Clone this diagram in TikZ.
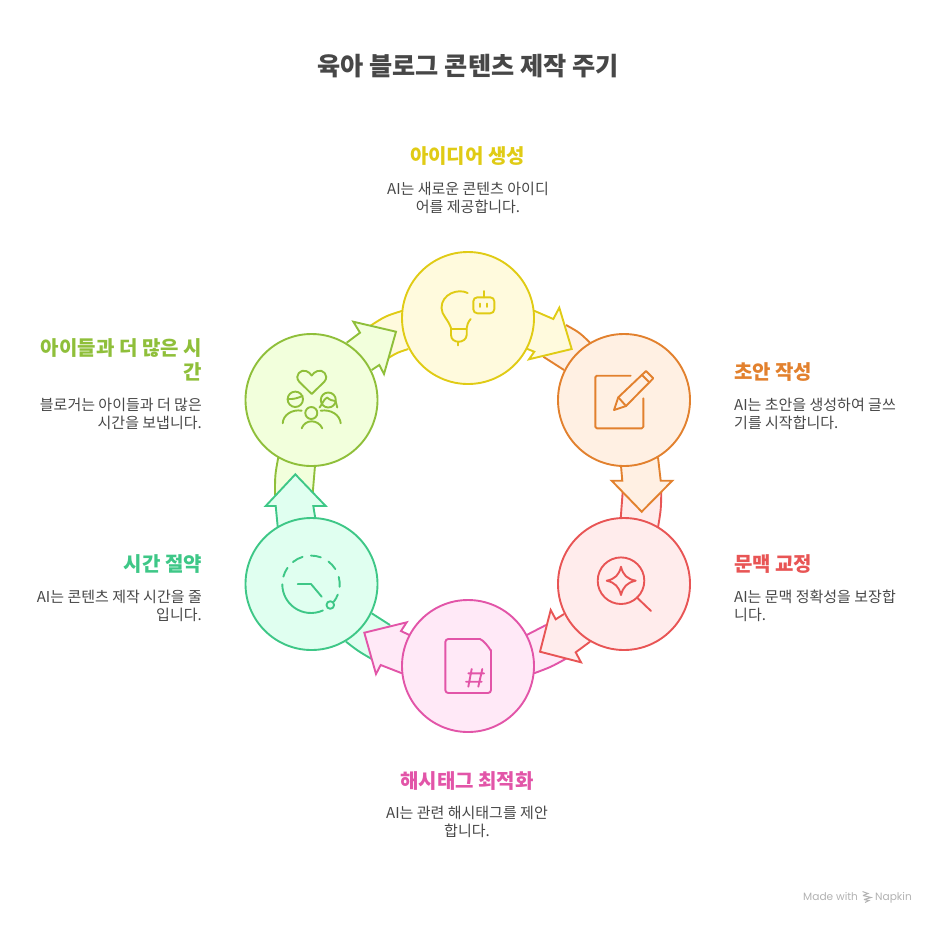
\documentclass[tikz,border=0pt]{standalone}
\usepackage{fontspec}
\setmainfont{Noto Sans CJK KR}
\newfontfamily\wmfont{Poppins}
\definecolor{ys}{HTML}{E0CB15}\definecolor{yf}{HTML}{FFFADD}
\definecolor{os}{HTML}{E2812E}\definecolor{of}{HTML}{FFF0E3}
\definecolor{rs}{HTML}{E85555}\definecolor{rf}{HTML}{FFECEC}
\definecolor{ps}{HTML}{E255A8}\definecolor{pf}{HTML}{FFE9F7}
\definecolor{ts}{HTML}{3EC787}\definecolor{tf}{HTML}{E0FFF0}
\definecolor{ls}{HTML}{8FBF3A}\definecolor{lf}{HTML}{F2FFDC}
\definecolor{ink}{HTML}{474747}
\tikzset{
 ring/.style n args={2}{circle,draw=#1,fill=#2,line width=1.9pt,minimum size=132pt,inner sep=0pt},
 arrowshape/.style n args={2}{draw=#1,fill=#2,line width=1.9pt,line join=miter,miter limit=10},
 ico/.style={line width=1.9pt,line cap=round,line join=round},
 headtext/.style={font=\fontsize{20}{25}\selectfont\bfseries,inner sep=0pt},
 bodytext/.style={font=\fontsize{15}{18}\selectfont,text=ink,inner sep=0pt},
 wmtext/.style={font=\wmfont\fontsize{10.6}{12}\selectfont,text=black!30,anchor=base west,inner sep=0pt},
}
\newcommand{\tailshape}[8]{% stroke fill a ctrl b c ctrl d
 \fill[#2] #3 .. controls #4 .. #5 -- #8 .. controls #7 .. #6 -- cycle;
 \draw[#1,line width=1.9pt] #3 .. controls #4 .. #5 #6 .. controls #7 .. #8;
}
\newcommand{\clockarc}[2]{%
 \draw[ico,ts] ({311+28.7*cos(#1)},{584.3-28.7*sin(#1)}) arc[start angle=#1,end angle=#2,radius=28.7pt];
}
\begin{document}
\begin{tikzpicture}[x=1pt,y=-1pt]
\useasboundingbox (0,0) rectangle (936,924);
% tails
\tailshape{ys}{yf}{(402.7,310.7)}{(385.5,316)}{(370,326)}{(408.3,349)}{(397.5,352.5)}{(388.3,358)}
\tailshape{os}{of}{(566,325)}{(579.5,332.5)}{(590,342.7)}{(543.3,356.7)}{(554,362.5)}{(564,370)}
\tailshape{rs}{rf}{(661.3,491)}{(661,509.5)}{(658,527.3)}{(622.7,491.7)}{(621.5,505)}{(620.7,518.3)}
\tailshape{ps}{pf}{(566.7,658.3)}{(551,667)}{(534,673.3)}{(546,625)}{(536,630.5)}{(526.7,635)}
\tailshape{ts}{tf}{(371.7,659)}{(358,651)}{(346,641.7)}{(390,625)}{(380.5,619.5)}{(371.7,613.3)}
\tailshape{ls}{lf}{(278.3,457.3)}{(275,475)}{(275,495)}{(315,465.7)}{(313.5,480)}{(312.7,493.3)}
% arrows
\draw[arrowshape={ys}{yf}] (534,310.7) -- (553.3,319) -- (559.3,307.7) -- (571.7,349) -- (529,359.3) -- (534.3,351.7) -- (525.7,348.3);
\draw[arrowshape={os}{of}] (621,466) -- (622.3,480.7) -- (611.7,480.7) -- (641.7,511.7) -- (672.3,480.7) -- (660.7,480.7) -- (658,457.3);
\draw[arrowshape={rs}{rf}] (564,614) -- (555.7,619.3) -- (550.7,610) -- (540,651.7) -- (581,662.3) -- (575.7,652.3) -- (590,641.7);
\draw[arrowshape={ps}{pf}] (409.3,635) -- (401,631) -- (406.7,622.3) -- (364.3,632.7) -- (376,674) -- (380.7,665) -- (402,673.3);
\draw[arrowshape={ts}{tf}] (277.7,526.7) -- (275.7,506) -- (265.7,506) -- (295.3,474.3) -- (325.7,506) -- (313.3,506) -- (315.3,518.3);
\draw[arrowshape={ls}{lf}] (346.7,342.7) -- (360,332.7) -- (353.3,321.7) -- (396,331.7) -- (384,374) -- (379.3,365) -- (371.7,370);
% circles
\node[ring={ys}{yf}] (idea) at (468,318) {};
\node[ring={os}{of}] (draft) at (624,400) {};
\node[ring={rs}{rf}] (context) at (624,584) {};
\node[ring={ps}{pf}] (hash) at (468,666) {};
\node[ring={ts}{tf}] (time) at (311.5,584) {};
\node[ring={ls}{lf}] (kids) at (311.5,400) {};
% bulb + robot
\draw[ico,ys] (467.7,293) .. controls (458,288) and (441.5,294) .. (441.5,308) .. controls (441.5,315) and (448,319) .. (451,328) -- (451,335) .. controls (451,344) and (466,344) .. (466.7,335) -- (466.7,328) .. controls (467,325) and (468,322) .. (470.7,319);
\draw[ico,ys] (451,329) -- (466.7,329) (458.3,342) -- (458.3,345.5);
\draw[ico,ys,rounded corners=4pt] (473.3,297.3) rectangle (494.3,313.3);
\draw[ico,ys] (483.7,291) -- (483.7,297.3) (479.7,303.5) -- (479.7,307) (487.3,303.5) -- (487.3,307);
% note + pencil
\draw[ico,os,rounded corners=1.5pt] (630.7,375.7) -- (595.3,375.7) -- (595.3,428.3) -- (643.3,428.3) -- (643.3,398.3);
\draw[ico,os] (614,410) -- (618.3,397.3) -- (646,371) -- (653.3,378.3) -- (626,406) -- cycle;
\draw[ico,os] (618.3,397.3) -- (626,406) (642,375) -- (649.3,382.3);
% magnifier
\draw[ico,rs] (621,580.7) circle[radius=23.3pt];
\draw[ico,rs] (636.7,597.3) -- (651,611);
\draw[ico,rs] (621,566.7) .. controls (623,575) and (627,579) .. (635.7,580.7) .. controls (627,582.5) and (623,587) .. (621,595) .. controls (619,587) and (615,582.5) .. (606.7,580.7) .. controls (615,579) and (619,575) .. (621,566.7) -- cycle;
% document
\draw[ico,ps,rounded corners=3pt] (480,639) -- (445.3,639) -- (445.3,693) -- (491,693) -- (491,650);
\draw[ico,ps] (480,639) .. controls (483,640) and (489,647) .. (491,651);
\draw[ico,ps] (471.7,669) -- (468.3,686.7) (482.3,669) -- (478.3,686.7) (468.3,673.3) -- (484,673.3) (466,681.7) -- (481.7,681.7);
% clock
\clockarc{164.5}{145}\clockarc{129}{107}\clockarc{90}{70}\clockarc{52.6}{32}\clockarc{15}{-5}\clockarc{-21}{-37}\clockarc{-65.5}{-180}
\draw[ico,ts] (330.3,605) circle[radius=3.8pt];
\draw[ico,ts] (297.7,584) -- (311,584) -- (321.7,596.7);
% people + heart
\draw[ico,ls] (311.7,394) -- (299,381.5) .. controls (294,375) and (301,369) .. (306,371) .. controls (308.5,372) and (310,373) .. (311.7,375.5) .. controls (313.5,373) and (315,372) .. (317.5,371) .. controls (322.5,369) and (329.5,375) .. (324.5,381.5) -- cycle;
\draw[ico,ls] (295.3,399.3) circle[radius=7.7pt];
\draw[ico,ls] (288,399) .. controls (293,399.5) and (298,398) .. (302.5,396);
\draw[ico,ls] (328.3,400) circle[radius=7.5pt];
\draw[ico,ls] (319.5,407.5) .. controls (322,405) and (323,400) .. (327,397.5) .. controls (330,400) and (333,401) .. (335.5,401) (335.5,401) -- (337.3,407.5);
\draw[ico,ls] (311.3,413) circle[radius=6pt];
\draw[ico,ls] (282.7,423.3) .. controls (283,415) and (292,409) .. (301.7,410.7);
\draw[ico,ls] (320.7,410.7) .. controls (331,409) and (340,415) .. (340.7,423.3);
\draw[ico,ls] (301.7,428.3) .. controls (305,419) and (318,419) .. (322.3,428.3);
% texts
\node[font=\fontsize{25.2}{30}\selectfont\bfseries,text=ink,inner sep=0pt] (title) at (468,66) {육아 블로그 콘텐츠 제작 주기};
\node[headtext,text=ys] (t1) at (467.5,156) {아이디어 생성};
\node[bodytext,align=center] (b1) at (468,198) {AI는 새로운 콘텐츠 아이디\\어를 제공합니다.};
\node[headtext,text=os,anchor=west] (t2) at (734,372) {초안 작성};
\node[bodytext,align=left,anchor=west] (b2) at (734,414) {AI는 초안을 생성하여 글쓰\\기를 시작합니다.};
\node[headtext,text=rs,anchor=west] (t3) at (734,564) {문맥 교정};
\node[bodytext,align=left,anchor=west] (b3) at (734,606) {AI는 문맥 정확성을 보장합\\니다.};
\node[headtext,text=ps] (t4) at (467,781) {해시태그 최적화};
\node[bodytext,align=center] (b4) at (467,822) {AI는 관련 해시태그를 제안\\합니다.};
\node[headtext,text=ts,anchor=east] (t5) at (202,564) {시간 절약};
\node[bodytext,align=right,anchor=east] (b5) at (202,606) {AI는 콘텐츠 제작 시간을 줄\\입니다.};
\node[headtext,text=ls,align=right,anchor=east,font=\fontsize{20}{24}\selectfont\bfseries] (t6) at (202,360) {아이들과 더 많은 시\\간};
\node[bodytext,align=right,anchor=east] (b6) at (202,414) {블로거는 아이들과 더 많은\\시간을 보냅니다.};
% watermark
\node[wmtext] (wm1) at (803,900.5) {Made with};
\node[wmtext] (wm2) at (875,900.5) {Napkin};
\draw[black!30,line width=1pt] (862.5,891.5) -- (868,893.5) -- (863,895.5) (863,895.5) -- (871,897.5) -- (864,899.5) (864,899.5) -- (869,900.5) -- (865,902.5);
\end{tikzpicture}
\end{document}
